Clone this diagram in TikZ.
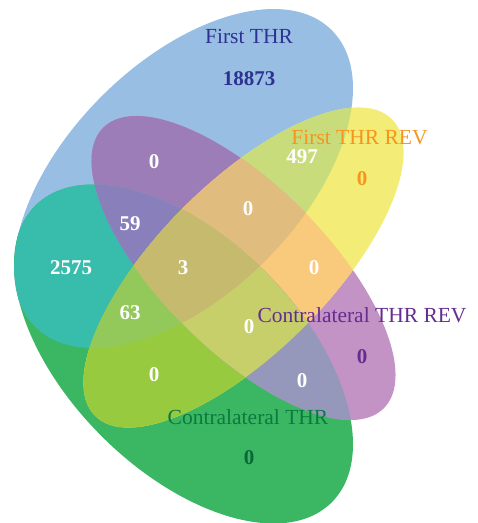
\documentclass[tikz,border=0pt]{standalone}
\usepackage{fontspec}
\setmainfont{Liberation Serif}

% region colours: B = First THR, Y = First THR REV,
% P = Contralateral THR REV, G = Contralateral THR
\definecolor{cB}{HTML}{98BFE3}
\definecolor{cY}{HTML}{F3EC76}
\definecolor{cP}{HTML}{C293C4}
\definecolor{cG}{HTML}{3BB764}
\definecolor{cBY}{HTML}{C8DC7C}
\definecolor{cBP}{HTML}{9C7DB8}
\definecolor{cBG}{HTML}{38BCAC}
\definecolor{cYP}{HTML}{FACA7C}
\definecolor{cYG}{HTML}{97CA3E}
\definecolor{cPG}{HTML}{9598BB}
\definecolor{cBYP}{HTML}{E0BC7E}
\definecolor{cBPG}{HTML}{897FBB}
\definecolor{cBYG}{HTML}{93C85A}
\definecolor{cYPG}{HTML}{C7CF6A}
\definecolor{cBYPG}{HTML}{C6BA6E}
% label colours
\definecolor{tB}{HTML}{2E3192}
\definecolor{tY}{HTML}{F7941D}
\definecolor{tP}{HTML}{662D91}
\definecolor{tG}{HTML}{0B7A3E}

% the four sets as rotated ellipses
\newcommand{\setB}[1]{\path[#1,rotate around={45:(183.5,-178.5)}] (183.5,-178.5) ellipse [x radius=209.7,y radius=116];}
\newcommand{\setG}[1]{\path[#1,rotate around={-45:(183.5,-354)}] (183.5,-354) ellipse [x radius=209.7,y radius=116];}
\newcommand{\setP}[1]{\path[#1,rotate around={-45:(243.5,-268)}] (243.5,-268) ellipse [x radius=198.4,y radius=82.7];}
\newcommand{\setY}[1]{\path[#1,rotate around={45:(243.5,-267.5)}] (243.5,-267.5) ellipse [x radius=209.8,y radius=84.9];}

\tikzset{
  lab/.style={inner sep=0pt, font=\fontsize{21.5}{24}\selectfont},
  num/.style={inner sep=0pt, font=\fontsize{21}{24}\selectfont\bfseries, text=white}
}

\begin{document}
\begin{tikzpicture}[x=1pt,y=1pt]
\useasboundingbox (0,0) rectangle (478,-523);

% single sets
\setB{fill=cB}
\setG{fill=cG}
\setP{fill=cP}
\setY{fill=cY}

% pairs
\begin{scope}\setB{clip}\setY{fill=cBY}\end{scope}
\begin{scope}\setB{clip}\setP{fill=cBP}\end{scope}
\begin{scope}\setB{clip}\setG{fill=cBG}\end{scope}
\begin{scope}\setY{clip}\setP{fill=cYP}\end{scope}
\begin{scope}\setY{clip}\setG{fill=cYG}\end{scope}
\begin{scope}\setP{clip}\setG{fill=cPG}\end{scope}

% triples
\begin{scope}\setB{clip}\setY{clip}\setP{fill=cBYP}\end{scope}
\begin{scope}\setB{clip}\setP{clip}\setG{fill=cBPG}\end{scope}
\begin{scope}\setB{clip}\setY{clip}\setG{fill=cBYG}\end{scope}
\begin{scope}\setY{clip}\setP{clip}\setG{fill=cYPG}\end{scope}

% all four
\begin{scope}\setB{clip}\setY{clip}\setP{clip}\setG{fill=cBYPG}\end{scope}

% set names
\node[lab, text=tB] (nameB) at (249,-36) {First THR};
\node[lab, text=tY] (nameY) at (359.5,-138) {First THR REV};
\node[lab, text=tP] (nameP) at (362,-315.5) {Contralateral THR REV};
\node[lab, text=tG] (nameG) at (248,-417) {Contralateral THR};

% counts
\node[num, text=tB] (nB) at (249,-79) {18873};
\node[num, text=tY] (nY) at (362,-179) {0};
\node[num, text=tP] (nP) at (362,-357) {0};
\node[num, text=tG!85!black] (nG) at (249,-458) {0};
\node[num] (nBY) at (302,-156.5) {497};
\node[num] (nBP) at (154,-162) {0};
\node[num] (nBYP) at (248,-209) {0};
\node[num] (nBPG) at (130,-224) {59};
\node[num] (nBG) at (71,-268) {2575};
\node[num] (nBYPG) at (183,-268) {3};
\node[num] (nYP) at (314,-268) {0};
\node[num] (nBYG) at (130,-313) {63};
\node[num] (nYPG) at (249,-327) {0};
\node[num] (nYG) at (154,-375) {0};
\node[num] (nPG) at (302,-381) {0};
\end{tikzpicture}
\end{document}
